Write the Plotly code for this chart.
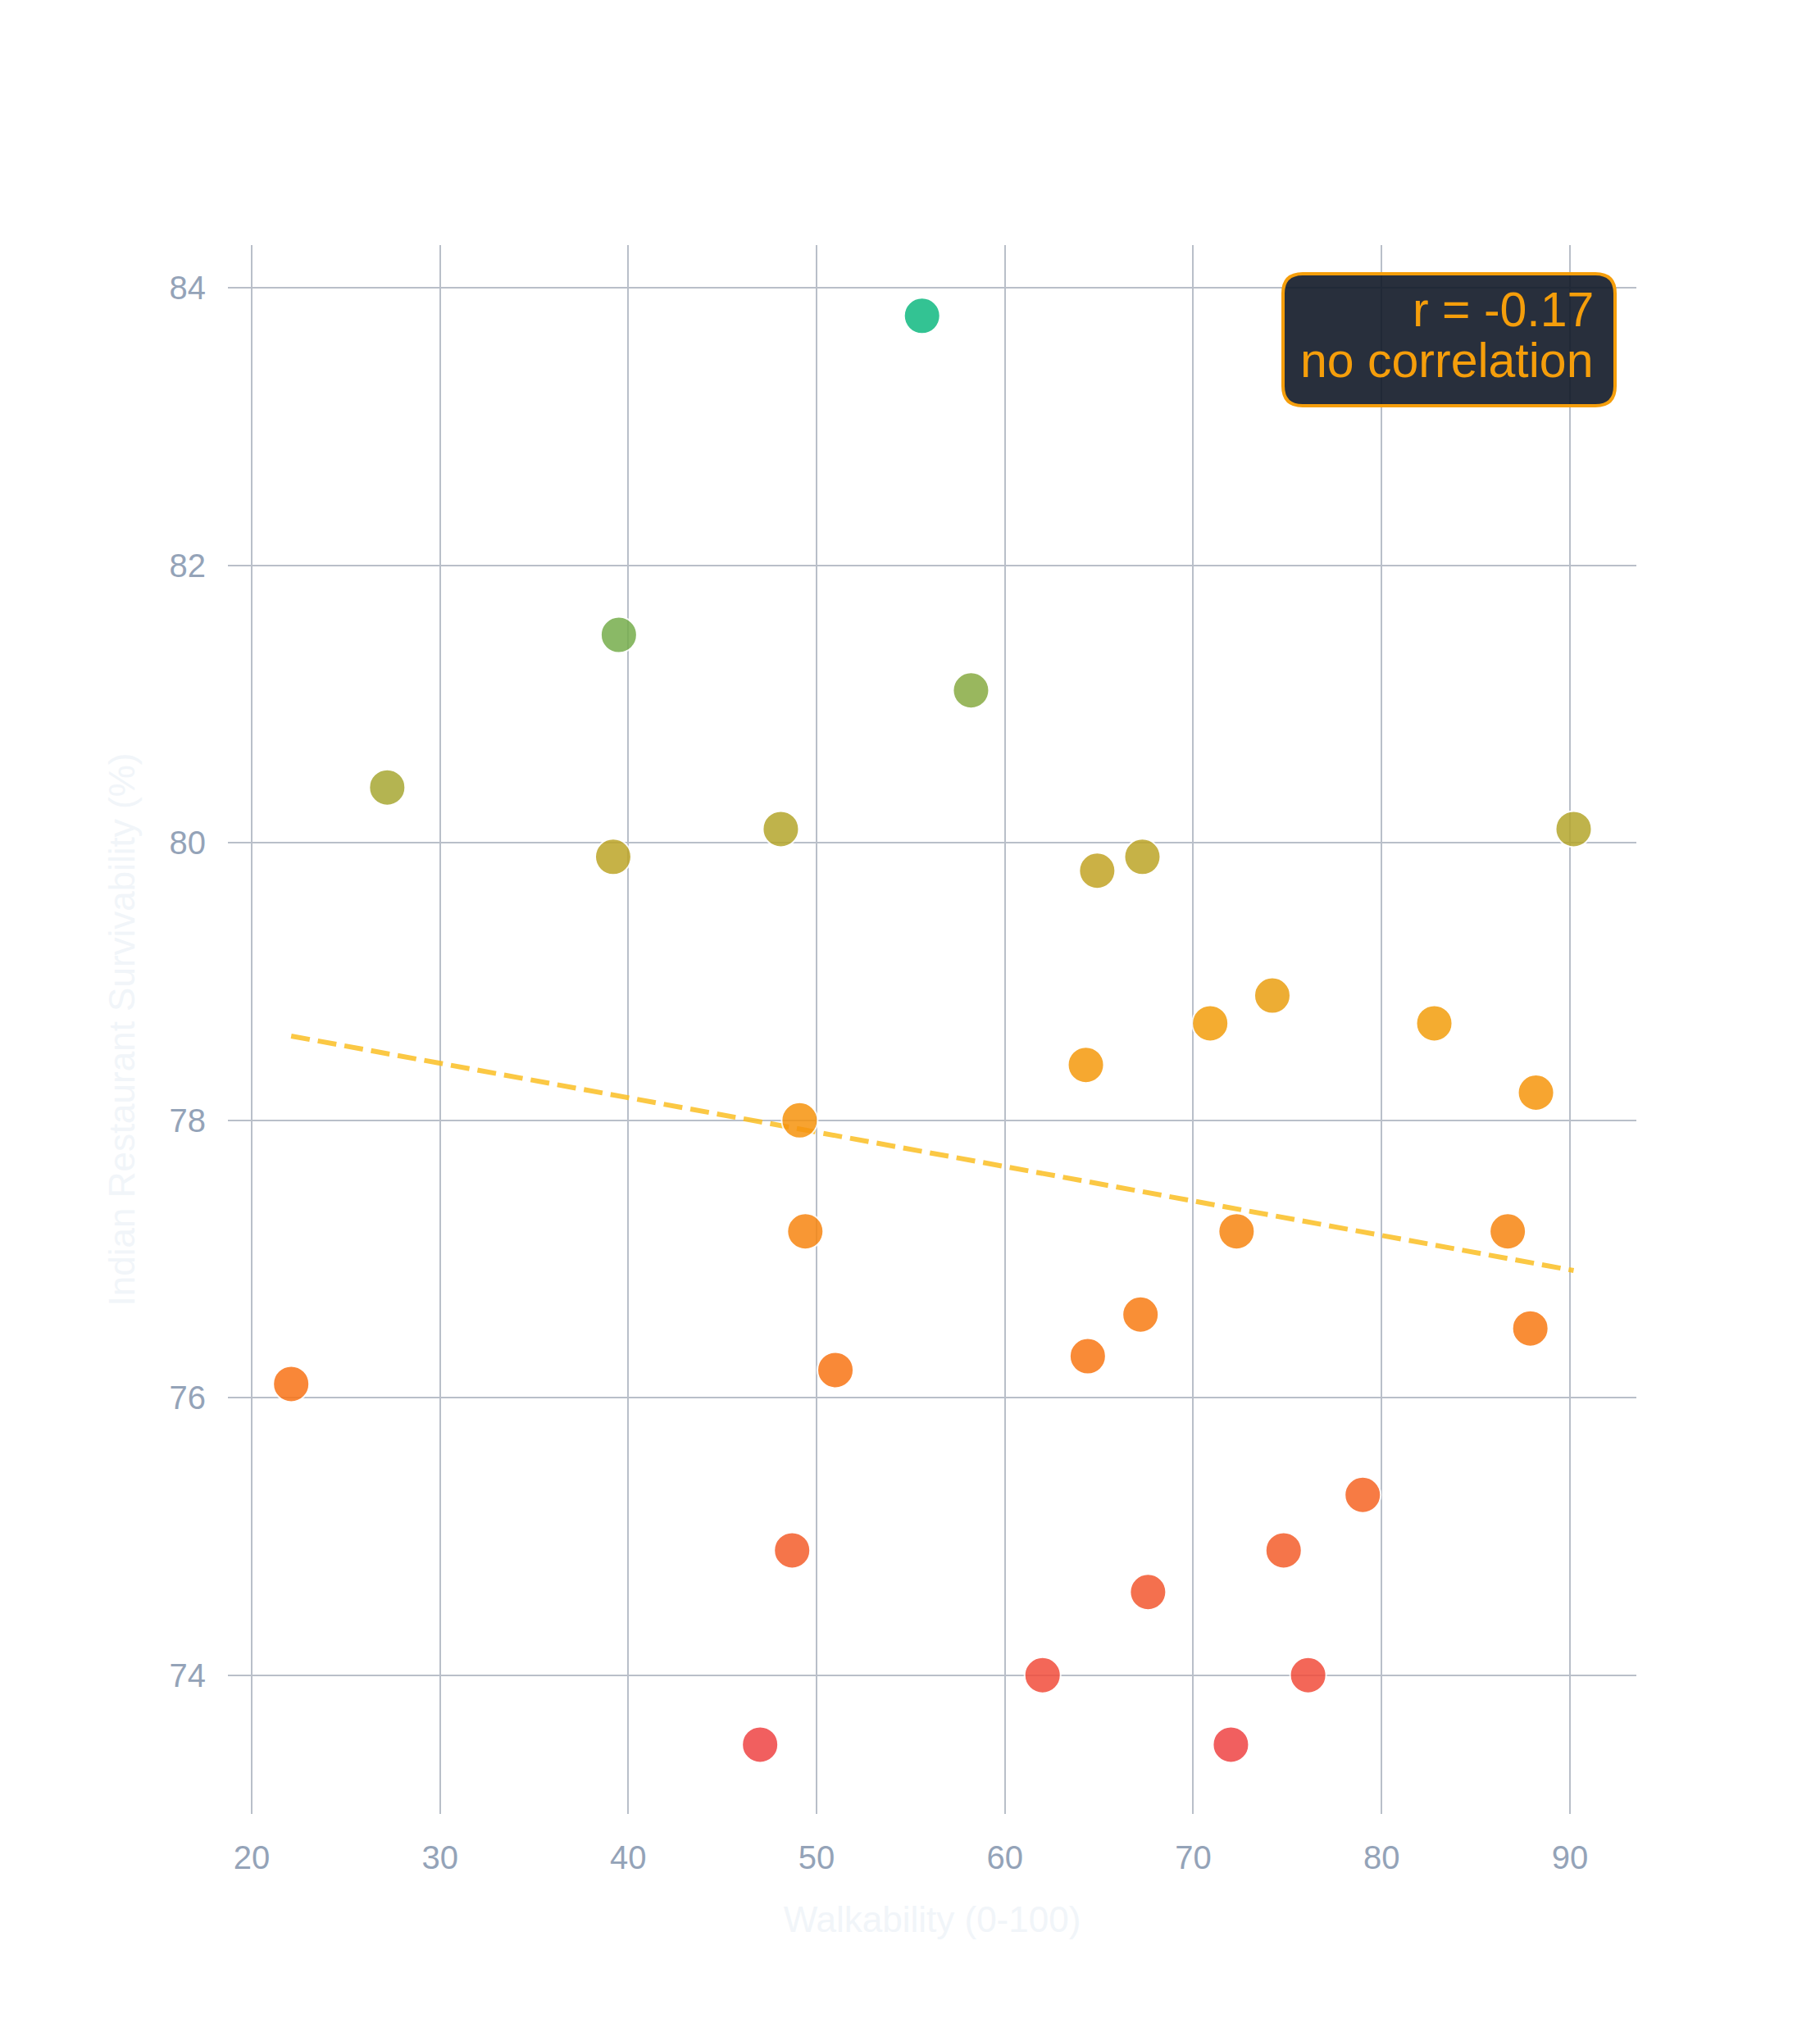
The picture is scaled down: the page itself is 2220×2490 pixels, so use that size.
import numpy as np
import plotly.graph_objects as go

# ---- data ----
walkability = [55.6, 39.5, 58.2, 27.2, 39.2, 48.1, 64.9, 67.3, 90.2, 74.2,
               70.9, 82.8, 64.3, 88.2, 49.1, 49.4, 72.3, 86.7, 67.2, 87.9,
               64.4, 51.0, 22.1, 79.0, 48.7, 74.8, 67.6, 62.0, 76.1, 47.0, 72.0]
survivability = [83.8, 81.5, 81.1, 80.4, 79.9, 80.1, 79.8, 79.9, 80.1, 78.9,
                 78.7, 78.7, 78.4, 78.2, 78.0, 77.2, 77.2, 77.2, 76.6, 76.5,
                 76.3, 76.2, 76.1, 75.3, 74.9, 74.9, 74.6, 74.0, 74.0, 73.5, 73.5]
x_ticks = [20, 30, 40, 50, 60, 70, 80, 90]
y_ticks = [74, 76, 78, 80, 82, 84]
x_title = "Walkability (0-100)"
y_title = "Indian Restaurant Survivability (%)"
corr_label = "r = -0.17"
corr_desc = "no correlation"

# ---- figure geometry (page has an 8px body margin) ----
OFF = 8
W, H = 2212, 2482
ML, MT = 270, 291
PW, PH = 1718, 1914
MR = W - ML - PW
MB = H - MT - PH

def px2paper_x(px):  # page pixel -> paper
    return (px - OFF - ML) / PW

def px2paper_y(py):
    return 1 - (py - OFF - MT) / PH

# regression line
xs = np.array(walkability)
ys = np.array(survivability)
slope, intercept = np.polyfit(xs, ys, 1)
line_x = [xs.min(), xs.max()]
line_y = [slope * v + intercept for v in line_x]

fig = go.Figure()
fig.add_trace(go.Scatter(
    x=line_x, y=line_y, mode="lines",
    line=dict(color="#fbbf24", width=6, dash="23px,10px"),
    opacity=0.85, hoverinfo="skip", showlegend=False,
))
fig.add_trace(go.Scatter(
    x=walkability, y=survivability, mode="markers",
    marker=dict(
        size=44,
        color=survivability,
        cmin=min(survivability), cmax=max(survivability),
        colorscale=[[0, "#ef4444"], [0.25, "#f97316"], [0.5, "#f59e0b"], [1, "#10b981"]],
        opacity=0.85,
        line=dict(color="white", width=2),
        showscale=False,
    ),
    showlegend=False,
))

# rounded annotation box
bx0, bx1, by0, by1 = 1565, 1970, 334, 495
r = 24
rx, ry = r / PW, r / PH
X0, X1 = px2paper_x(bx0), px2paper_x(bx1)
Y0, Y1 = px2paper_y(by1), px2paper_y(by0)
path = (f"M {X0+rx},{Y1} L {X1-rx},{Y1} Q {X1},{Y1} {X1},{Y1-ry} "
        f"L {X1},{Y0+ry} Q {X1},{Y0} {X1-rx},{Y0} "
        f"L {X0+rx},{Y0} Q {X0},{Y0} {X0},{Y0+ry} "
        f"L {X0},{Y1-ry} Q {X0},{Y1} {X0+rx},{Y1} Z")
fig.add_shape(type="path", path=path, xref="paper", yref="paper",
              fillcolor="rgba(17,24,39,0.9)",
              line=dict(color="#f59e0b", width=4), layer="above")

font_fam = "Liberation Sans, Arial, Helvetica, sans-serif"
fig.add_annotation(text=corr_label, xref="paper", yref="paper",
                   x=px2paper_x(1946), y=px2paper_y(378), xanchor="right", yanchor="middle",
                   showarrow=False, font=dict(family=font_fam, size=59, color="#f59e0b"))
fig.add_annotation(text=corr_desc, xref="paper", yref="paper",
                   x=px2paper_x(1946), y=px2paper_y(440), xanchor="right", yanchor="middle",
                   showarrow=False, font=dict(family=font_fam, size=59, color="#f59e0b"))

axis_common = dict(
    showgrid=True, gridcolor="#b9bfc9", gridwidth=2,
    zeroline=False, showline=False,
    tickfont=dict(family=font_fam, size=40, color="#94a3b8"),
    title_font=dict(family=font_fam, size=44, color="#f1f5f9"),
)

fig.update_layout(
    width=W, height=H,
    margin=dict(l=ML, r=MR, t=MT, b=MB, autoexpand=False),
    paper_bgcolor="white", plot_bgcolor="white",
    xaxis=dict(range=[18.74, 93.53], tickvals=x_ticks,
               ticks="outside", ticklen=18, tickcolor="rgba(0,0,0,0)",
               title=dict(text=x_title, standoff=39), **axis_common),
    yaxis=dict(range=[73.0, 84.31], tickvals=y_ticks,
               ticks="outside", ticklen=18, tickcolor="rgba(0,0,0,0)",
               title=dict(text=y_title, standoff=28), **axis_common),
)

fig.write_html("out.html")
